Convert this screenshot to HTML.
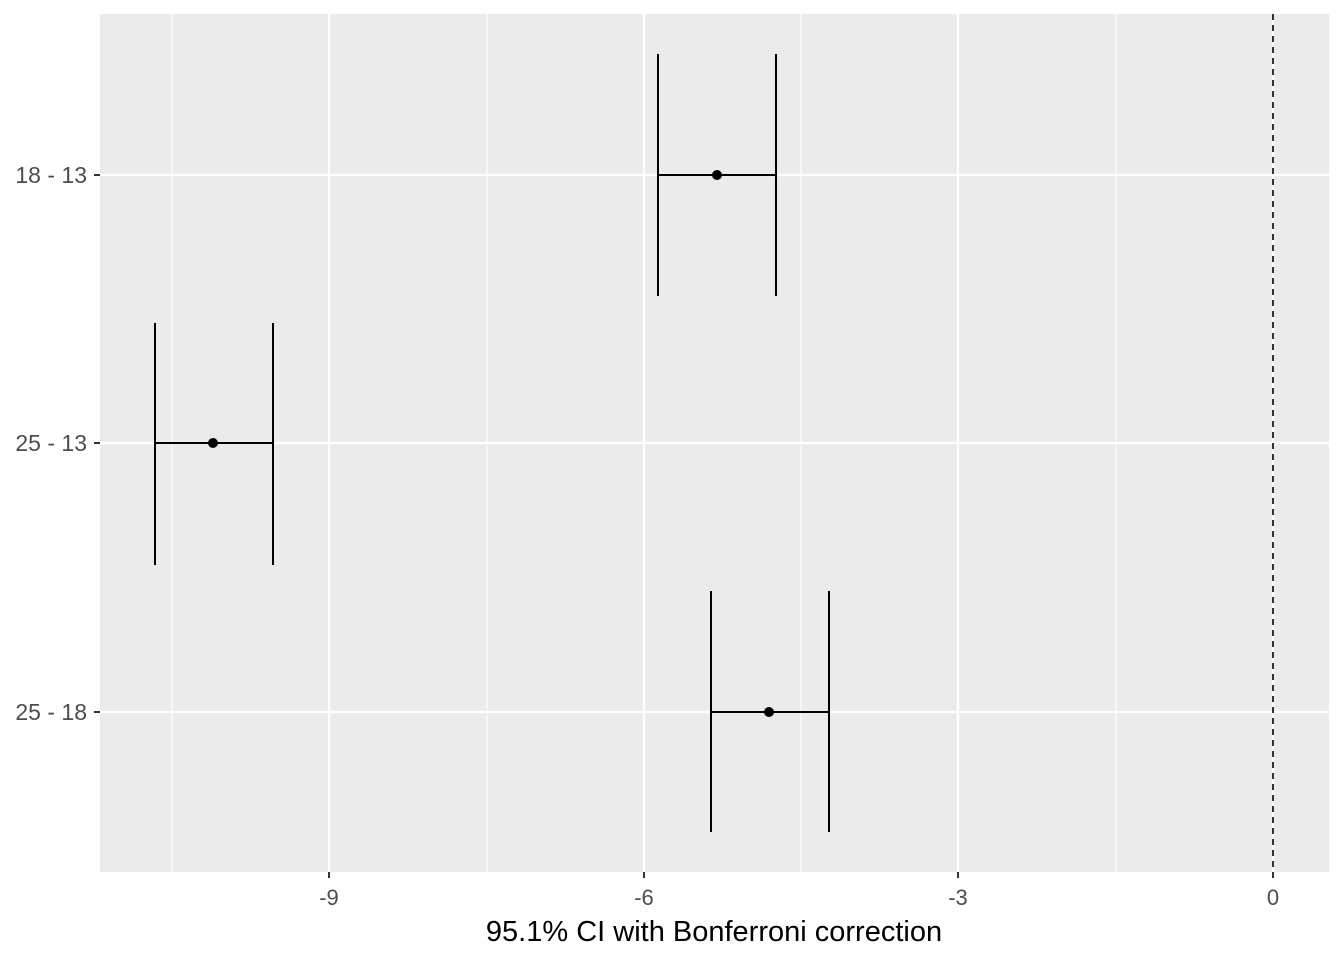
<!DOCTYPE html>
<html><head><style>body{margin:0;background:#fff}</style></head><body>
<svg width="1344" height="960" xmlns="http://www.w3.org/2000/svg" font-family="Liberation Sans, sans-serif">
<rect x="0" y="0" width="1344" height="960" fill="#fff"/>
<rect x="100" y="14" width="1229" height="858" fill="#ebebeb"/>
<g stroke="#fff" stroke-width="1.1">
<line x1="172" y1="14" x2="172" y2="872"/><line x1="487" y1="14" x2="487" y2="872"/><line x1="801" y1="14" x2="801" y2="872"/><line x1="1116" y1="14" x2="1116" y2="872"/>
</g>
<g stroke="#fff" stroke-width="2.2">
<line x1="329" y1="14" x2="329" y2="872"/><line x1="644" y1="14" x2="644" y2="872"/><line x1="958" y1="14" x2="958" y2="872"/><line x1="1273" y1="14" x2="1273" y2="872"/>
<line x1="100" y1="175" x2="1329" y2="175"/><line x1="100" y1="443" x2="1329" y2="443"/><line x1="100" y1="712" x2="1329" y2="712"/>
</g>
<line x1="1273" y1="14" x2="1273" y2="872" stroke="#000" stroke-width="1.6" stroke-dasharray="6,5"/>
<g stroke="#000" stroke-width="2" fill="none">
<path d="M658 54V296M776 54V296M658 175H776"/>
<path d="M155 323V565M273 323V565M155 443H273"/>
<path d="M711 591V832M829 591V832M711 712H829"/>
</g>
<g fill="#000"><circle cx="717" cy="175" r="5"/><circle cx="213" cy="443" r="5"/><circle cx="769" cy="712" r="5"/></g>
<g stroke="#333" stroke-width="2">
<line x1="94" y1="175" x2="100" y2="175"/><line x1="94" y1="443" x2="100" y2="443"/><line x1="94" y1="712" x2="100" y2="712"/>
<line x1="329" y1="872" x2="329" y2="878"/><line x1="644" y1="872" x2="644" y2="878"/><line x1="958" y1="872" x2="958" y2="878"/><line x1="1273" y1="872" x2="1273" y2="878"/>
</g>
<g fill="#4d4d4d" font-size="23" text-anchor="end">
<text x="87" y="183">18 - 13</text><text x="87" y="451">25 - 13</text><text x="87" y="720">25 - 18</text>
</g>
<g fill="#4d4d4d" font-size="22" text-anchor="middle">
<text x="329" y="905">-9</text><text x="644" y="905">-6</text><text x="958" y="905">-3</text><text x="1273" y="905">0</text>
</g>
<text x="714" y="941" font-size="29" text-anchor="middle" fill="#000">95.1% CI with Bonferroni correction</text>
</svg>
</body></html>
